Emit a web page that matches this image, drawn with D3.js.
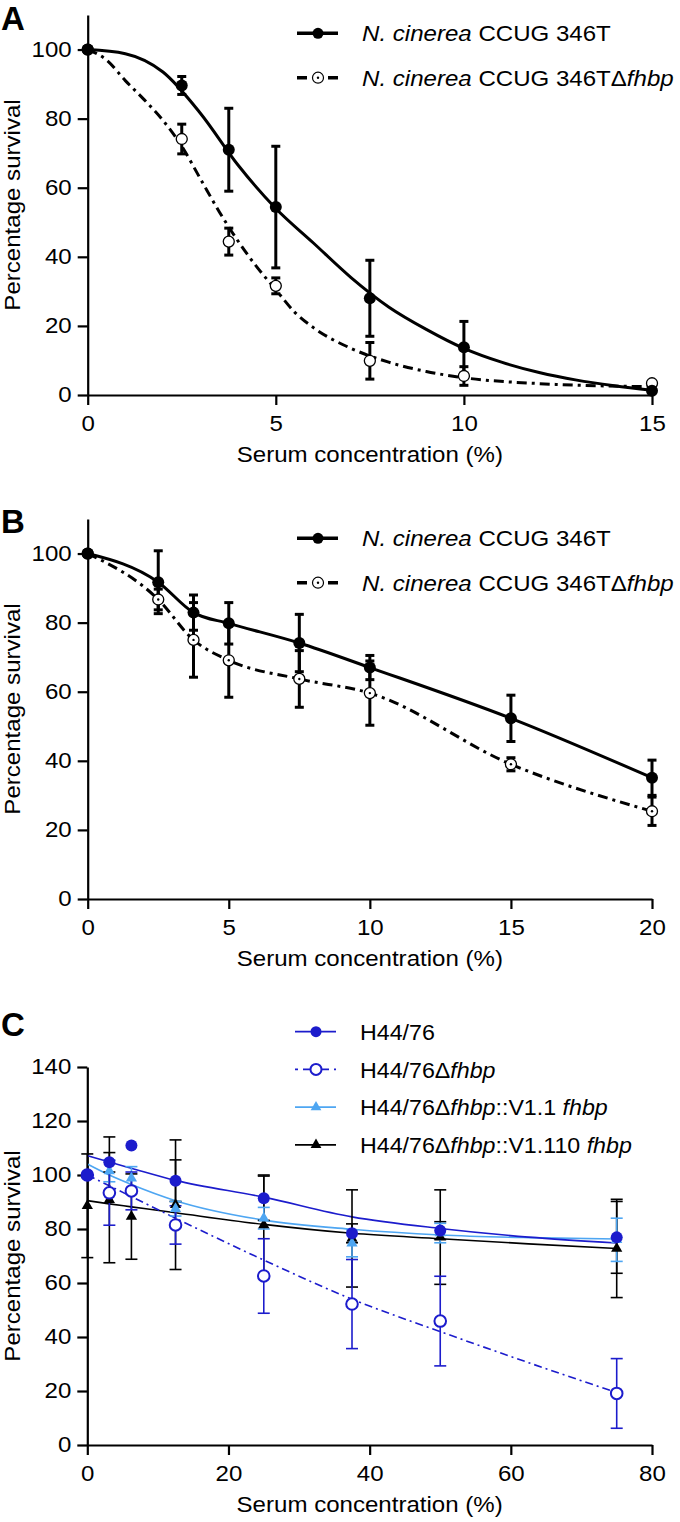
<!DOCTYPE html>
<html><head><meta charset="utf-8">
<script src="https://cdn.jsdelivr.net/npm/d3@7"></script>
<style>
body{margin:0;background:#fff}
svg text{font-family:"Liberation Sans",Arial,Helvetica,sans-serif}
</style>
</head><body>
<svg id="fig" width="680" height="1522"></svg>
<script>
// ---------- Panel A data ----------
const concA = [0, 2.5, 3.75, 5, 7.5, 10, 15];
const wtA = [100, 89.6, 71, 54.4, 28, 13.8, 1.2];
const wtAErr = [0, 2.6, 12, 17.6, 11, 7.5, 0];
const delA = [100, 74.1, 44.4, 31.6, 9.9, 5.5, 3.4];
const delAErr = [0, 4.3, 3.9, 2.3, 5.3, 2.7, 0];
const fitAWtX = [0, 1, 2, 3, 4, 5, 6, 7, 8, 9, 10, 11, 12, 13, 14, 15];
const fitAWtY = [100, 98.8, 93.5, 81.5, 66.5, 54, 44, 34, 25.5, 19, 13.5, 9.5, 6.5, 4.3, 2.7, 1.4];
const fitADelX = [0, 0.5, 1, 1.5, 2, 2.5, 3, 3.5, 4, 4.5, 5, 5.5, 6, 7, 8, 9, 10, 12, 15];
const fitADelY = [100, 97, 91, 85.5, 79.5, 72, 62.5, 53, 44.5, 37, 30.5, 24, 19.5, 13.5, 9.5, 6.8, 5, 3.3, 2.4];
const ticksXA = [0, 5, 10, 15];

// ---------- Panel B data ----------
const concB = [0, 2.5, 3.75, 5, 7.5, 10, 15, 20];
const wtB = [100, 91.7, 82.9, 79.8, 74.1, 67, 52.3, 35.1];
const wtBErr = [0, 9.1, 5.1, 6, 8.3, 3.5, 6.7, 5.1];
const delB = [100, 86.7, 75, 69.1, 63.7, 59.6, 39, 25.4];
const delBErr = [0, 3, 10.8, 10.7, 8.2, 9.3, 1.9, 4.1];
const ticksXB = [0, 5, 10, 15, 20];
const ticksYAB = [0, 20, 40, 60, 80, 100];

// ---------- Panel C data ----------
const concC = [0, 3.125, 6.25, 12.5, 25, 37.5, 50, 75];
const wtC = [100, 104.7, 110.9, 97.9, 91.4, 78.4, 79.4, 76.9];
const wtCErr = [0, 3.6, 0, 7.7, 8.2, 3.5, 3.3, 13.3];
const delC = [100, 93.4, 94.1, 81.5, 62.6, 52.2, 45.9, 19.1];
const delCErr = [0, 12, 7, 7.1, 13.8, 16.5, 16.6, 12.9];
const v11C = [100, 101.5, 98.8, 87.5, 84, 74.7, 78.5, 76];
const v11CErr = [0, 4, 4.3, 2.7, 4, 5, 3.6, 8];
const v110C = [88.6, 90.8, 84.6, 89, 81.5, 76.5, 77, 72.8];
const v110CErr = [19.2, 23.3, 15.8, 24, 18.5, 18, 17.5, 18.2];
const fitCX = [0, 3.125, 6.25, 12.5, 25, 37.5, 50, 62.5, 75];
const fitCWt = [107.2, 104.8, 102.5, 98, 91.8, 84.5, 80.2, 77, 74.8];
const fitCV11 = [104.1, 100, 96.5, 90.5, 83.3, 79.9, 77.8, 76.8, 76.3];
const fitCV110 = [90.5, 89.3, 88.2, 86, 81.7, 78.4, 76.4, 74.5, 72.8];
const fitCDel = [100, 96, 92, 84, 68.5, 54, 42, 30.5, 19.4];
const ticksXC = [0, 20, 40, 60, 80];
const ticksYC = [0, 20, 40, 60, 80, 100, 120, 140];

const DARK = "#1c1ccc", LIGHT = "#4ea6f2";
const SX = 1.12, FS = 21.5;
const svg = d3.select("#fig");

function label(parent, x, y, parts, opts = {}) {
  const rot = opts.rotate ? ` rotate(${opts.rotate})` : "";
  const g = parent.append("g").attr("transform", `translate(${x},${y})${rot} scale(${opts.sx || SX},1)`);
  const t = g.append("text").attr("font-size", opts.size || FS)
    .attr("text-anchor", opts.anchor || "start").attr("fill", "#000")
    .attr("font-weight", opts.bold ? "bold" : "normal");
  parts.forEach(p => t.append("tspan").text(p[0]).attr("font-style", p[1] ? "italic" : "normal"));
  return t;
}

function drawAxes(g, x, y, xt, yt) {
  const ax = g.append("g").attr("transform", `translate(0,${y.range()[0]})`)
    .call(d3.axisBottom(x).tickValues(xt).tickSize(10).tickSizeOuter(0).tickFormat(d3.format("d")));
  const ay = g.append("g").attr("transform", `translate(${x.range()[0]},0)`)
    .call(d3.axisLeft(y).tickValues(yt).tickSize(10).tickSizeOuter(0).tickFormat(d3.format("d")));
  [ax, ay].forEach(a => {
    a.attr("font-size", FS).attr("font-family", null);
    a.selectAll("path,line").attr("stroke", "#000").attr("stroke-width", 2.2);
    a.selectAll("text").attr("fill", "#000");
  });
  ax.selectAll("text").attr("y", 36).attr("dy", null).attr("transform", `scale(${SX},1)`);
  ay.selectAll("text").attr("x", -16 / SX).attr("transform", `scale(${SX},1)`);
  const cx = (x.range()[0] + x.range()[1]) / 2;
  label(g, cx, y.range()[0] + 67, [["Serum concentration (%)"]], {anchor: "middle"});
  const cy = (y.range()[0] + y.range()[1]) / 2;
  label(g, 20, cy, [["Percentage survival"]], {anchor: "middle", rotate: -90});
}

function errBars(g, x, y, xs, vs, es, color, sw, hw) {
  const d = xs.map((xv, i) => ({x: xv, v: vs[i], e: es[i]})).filter(o => o.e > 0.5);
  const eg = g.append("g").attr("stroke", color).attr("stroke-width", sw);
  d.forEach(o => {
    const px = x(o.x), t = y(o.v + o.e), b = y(o.v - o.e);
    eg.append("line").attr("x1", px).attr("x2", px).attr("y1", t).attr("y2", b);
    eg.append("line").attr("x1", px - hw).attr("x2", px + hw).attr("y1", t).attr("y2", t);
    eg.append("line").attr("x1", px - hw).attr("x2", px + hw).attr("y1", b).attr("y2", b);
  });
}

function curve(g, x, y, xs, ys, color, sw, dash) {
  const line = d3.line().x(d => x(d[0])).y(d => y(d[1])).curve(d3.curveMonotoneX);
  g.append("path").attr("d", line(xs.map((v, i) => [v, ys[i]])))
    .attr("fill", "none").attr("stroke", color).attr("stroke-width", sw)
    .attr("stroke-dasharray", dash || null);
}

const DASH_AB = "10,5,3,5";

function panelAB(opts) {
  const g = svg.append("g");
  const x = d3.scaleLinear().domain(opts.xdom).range([87.7, 652]);
  const y = d3.scaleLinear().domain([0, 110]).range([opts.y0, opts.y0 - 380]);
  label(g, 1, opts.letterY, [[opts.letter]], {size: 33, bold: true, sx: 1});
  drawAxes(g, x, y, opts.xticks, ticksYAB);
  curve(g, x, y, opts.fitWtX, opts.fitWtY, "#000", 3);
  curve(g, x, y, opts.fitDelX, opts.fitDelY, "#000", 3, DASH_AB);
  errBars(g, x, y, opts.conc, opts.wt, opts.wtErr, "#000", 3, 4.5);
  errBars(g, x, y, opts.conc, opts.del, opts.delErr, "#000", 3, 4.5);
  opts.conc.forEach((c, i) => {
    g.append("circle").attr("cx", x(c)).attr("cy", y(opts.del[i])).attr("r", 5.5)
      .attr("fill", "#fff").attr("stroke", "#000").attr("stroke-width", 1.3);
    if (opts.dot) g.append("circle").attr("cx", x(c)).attr("cy", y(opts.del[i])).attr("r", 1.2).attr("fill", "#000");
  });
  opts.conc.forEach((c, i) => {
    g.append("circle").attr("cx", x(c)).attr("cy", y(opts.wt[i])).attr("r", 6).attr("fill", "#000");
  });
  // legend
  const lx = 297, ly = opts.legY, gap = 44.4;
  g.append("line").attr("x1", lx).attr("x2", lx + 41).attr("y1", ly).attr("y2", ly).attr("stroke", "#000").attr("stroke-width", 3.5);
  g.append("circle").attr("cx", lx + 21).attr("cy", ly).attr("r", 5.5).attr("fill", "#000");
  g.append("line").attr("x1", lx).attr("x2", lx + 41).attr("y1", ly + gap).attr("y2", ly + gap)
    .attr("stroke", "#000").attr("stroke-width", 3.5).attr("stroke-dasharray", "10,21,10");
  g.append("circle").attr("cx", lx + 21).attr("cy", ly + gap).attr("r", 5.5).attr("fill", "#fff").attr("stroke", "#000").attr("stroke-width", 1.2);
  g.append("circle").attr("cx", lx + 21).attr("cy", ly + gap).attr("r", 1.2).attr("fill", "#000");
  label(g, 362, ly + 8, [["N. cinerea", true], [" CCUG 346T"]]);
  label(g, 362, ly + gap + 8, [["N. cinerea", true], [" CCUG 346T"], ["\u0394"], ["fhbp", true]]);
}

panelAB({letter: "A", letterY: 30, y0: 395, xdom: [0, 15], xticks: ticksXA, legY: 33.3,
  conc: concA, wt: wtA, wtErr: wtAErr, del: delA, delErr: delAErr,
  fitWtX: fitAWtX, fitWtY: fitAWtY, fitDelX: fitADelX, fitDelY: fitADelY, dot: false});

panelAB({letter: "B", letterY: 533, y0: 899, xdom: [0, 20], xticks: ticksXB, legY: 538.3,
  conc: concB, wt: wtB, wtErr: wtBErr, del: delB, delErr: delBErr,
  fitWtX: concB, fitWtY: wtB, fitDelX: concB, fitDelY: delB, dot: true});

// ---------- Panel C ----------
(function () {
  const g = svg.append("g");
  const x = d3.scaleLinear().domain([0, 80]).range([87.3, 652]);
  const y = d3.scaleLinear().domain([0, 140]).range([1445, 1067]);
  label(g, 1, 1036, [["C"]], {size: 33, bold: true, sx: 1});
  drawAxes(g, x, y, ticksXC, ticksYC);
  curve(g, x, y, fitCX, fitCV110, "#000", 1.6);
  curve(g, x, y, fitCX, fitCV11, LIGHT, 1.6);
  curve(g, x, y, fitCX, fitCWt, DARK, 1.6);
  curve(g, x, y, fitCX, fitCDel, DARK, 1.6, "8,4,2,4");
  errBars(g, x, y, concC, v110C, v110CErr, "#000", 1.6, 6);
  errBars(g, x, y, concC, wtC, wtCErr, "#000", 1.6, 6);
  errBars(g, x, y, concC, v11C, v11CErr, LIGHT, 1.6, 6);
  errBars(g, x, y, concC, delC, delCErr, DARK, 1.6, 6);
  const tri = d3.symbol().type(d3.symbolTriangle).size(55);
  concC.forEach((c, i) => g.append("path").attr("d", tri()).attr("transform", `translate(${x(c)},${y(v110C[i])})`).attr("fill", "#000"));
  concC.forEach((c, i) => g.append("path").attr("d", tri()).attr("transform", `translate(${x(c)},${y(v11C[i])})`).attr("fill", LIGHT));
  concC.forEach((c, i) => g.append("circle").attr("cx", x(c)).attr("cy", y(delC[i])).attr("r", 5.8)
    .attr("fill", "#fff").attr("stroke", DARK).attr("stroke-width", 2));
  concC.forEach((c, i) => g.append("circle").attr("cx", x(c)).attr("cy", y(wtC[i])).attr("r", 6).attr("fill", DARK));
  // legend
  const lx = 295, ly = 1031.7, gap = 37.7;
  const rows = [
    {color: DARK, dash: null, mark: "fill", text: [["H44/76"]]},
    {color: DARK, dash: "3,5,9,8,9,5,3", mark: "open", text: [["H44/76\u0394"], ["fhbp", true]]},
    {color: LIGHT, dash: null, mark: "tri", text: [["H44/76\u0394"], ["fhbp", true], ["::V1.1 "], ["fhbp", true]]},
    {color: "#000", dash: null, mark: "tri", text: [["H44/76\u0394"], ["fhbp", true], ["::V1.110 "], ["fhbp", true]]}
  ];
  rows.forEach((r, i) => {
    const yy = ly + i * gap;
    g.append("line").attr("x1", lx).attr("x2", lx + 41).attr("y1", yy).attr("y2", yy)
      .attr("stroke", r.color).attr("stroke-width", 1.8).attr("stroke-dasharray", r.dash);
    if (r.mark === "fill") g.append("circle").attr("cx", lx + 21).attr("cy", yy).attr("r", 5.5).attr("fill", r.color);
    if (r.mark === "open") g.append("circle").attr("cx", lx + 21).attr("cy", yy).attr("r", 5.5).attr("fill", "#fff").attr("stroke", r.color).attr("stroke-width", 2);
    if (r.mark === "tri") g.append("path").attr("d", d3.symbol().type(d3.symbolTriangle).size(50)()).attr("transform", `translate(${lx + 21},${yy})`).attr("fill", r.color);
    label(g, 360, yy + 8.3, r.text, {sx: 1.08});
  });
})();
</script>
</body></html>
